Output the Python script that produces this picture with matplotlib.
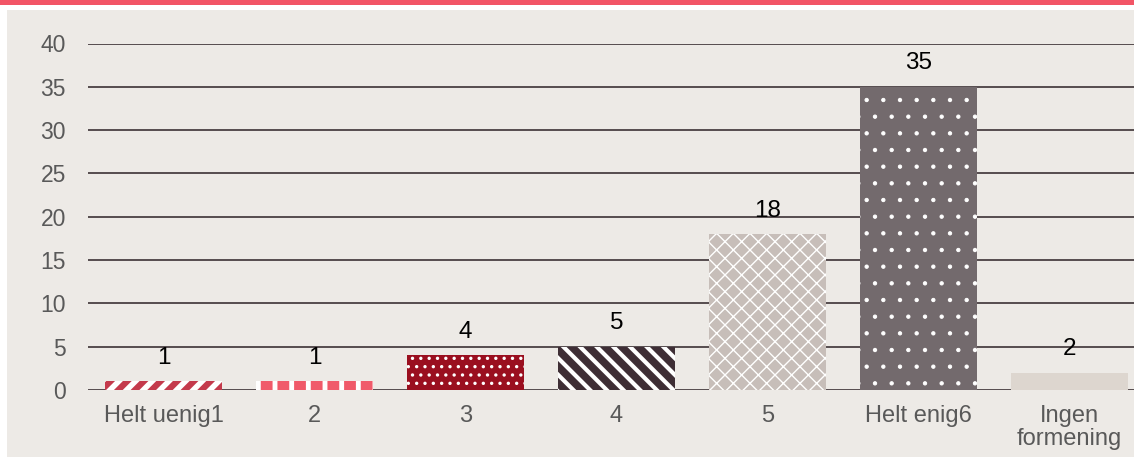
import matplotlib.pyplot as plt
from matplotlib.patches import Rectangle

plt.rcParams['font.family'] = ['Liberation Sans', 'DejaVu Sans']

categories = ['Helt uenig1', '2', '3', '4', '5', 'Helt enig6', 'Ingen\nformening']
values = [1, 1, 4, 5, 18, 35, 2]
colors = ['#C43A4C', '#F05A6A', '#9A0F1F', '#3E2E35', '#C7BEB9', '#736A6D', '#DDD6CF']
hatches = ['//', '|', '..', '\\\\', 'xx', '.', '']
hatch_widths = [4.0, 3.5, 1.2, 3.0, 1.0, 0.7, 1.0]

bg = '#EDEAE6'
fig = plt.figure(figsize=(11.34, 4.57), dpi=100)
fig.patch.set_facecolor('white')
fig.patches.append(Rectangle((7 / 1134, 0), 1, 1 - 10 / 457, transform=fig.transFigure,
                             facecolor=bg, edgecolor='none', zorder=-2))
fig.patches.append(Rectangle((0, 1 - 5 / 457), 1, 5 / 457, transform=fig.transFigure,
                             facecolor='#F25566', edgecolor='none', zorder=-1))

ax = fig.add_axes([88 / 1134, 67 / 457, (1134 - 88) / 1134, 346.5 / 457])
ax.set_facecolor('none')
ax.set_xlim(-0.5, -0.5 + 1046 / 151)
ax.set_ylim(0, 40)
ax.set_yticks(range(0, 41, 5))
ax.yaxis.grid(True, color='#4A4043', linewidth=1.3)
ax.set_axisbelow(True)
for s in ax.spines.values():
    s.set_visible(False)
ax.tick_params(length=0)
ax.tick_params(axis='y', pad=16, labelsize=16.5, labelcolor='#595959')
ax.tick_params(axis='x', pad=11, labelsize=17, labelcolor='#595959')

for i, v in enumerate(values):
    with plt.rc_context({'hatch.linewidth': hatch_widths[i]}):
        b = ax.bar(i, v, width=0.775, color=colors[i], edgecolor='white' if hatches[i] else colors[i],
                   linewidth=0, hatch=hatches[i] or None, zorder=2)
    ax.bar_label(b, labels=[str(v)], padding=9, fontsize=17.5, color='black')

ax.set_xticks(range(len(categories)))
ax.set_xticklabels(categories, linespacing=1.05)

fig.savefig('out.png', dpi=100, facecolor=fig.get_facecolor())
